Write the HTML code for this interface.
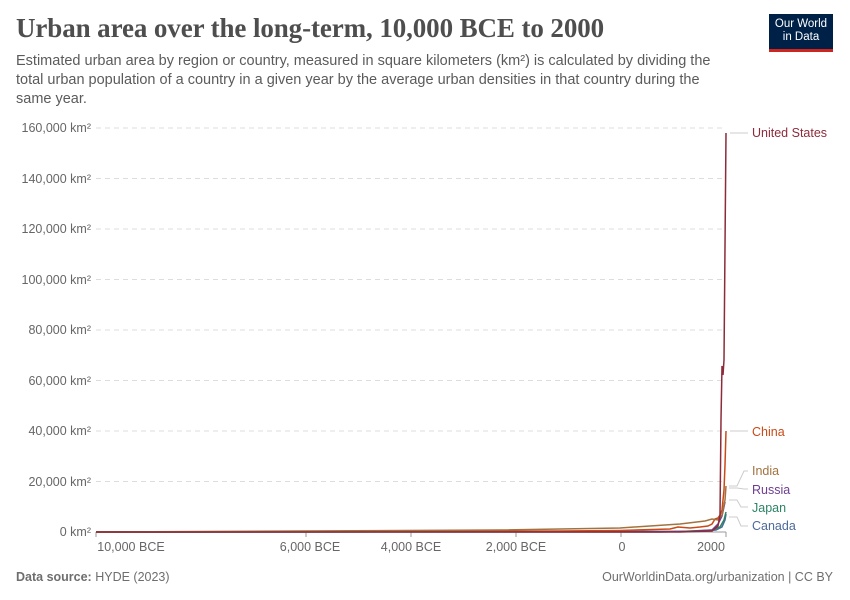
<!DOCTYPE html>
<html><head><meta charset="utf-8"><style>
body{margin:0;background:#fff;width:850px;height:600px;overflow:hidden;font-family:"Liberation Sans",sans-serif}
.t{position:absolute;left:16px;top:13px;font-family:"Liberation Serif",serif;font-size:27px;color:#4e4e4e;font-weight:bold;letter-spacing:-0.1px}
.s{position:absolute;left:16px;top:52px;width:715px;font-size:14.5px;line-height:19px;color:#5b5b5b}
.logo{position:absolute;left:769px;top:14px;width:64px;height:38px;background:#002147;color:#fff;font-size:11.5px;text-align:center;line-height:13px;padding-top:4px;box-sizing:border-box;border-bottom:3px solid #ce261e}
.f{position:absolute;top:570px;font-size:12.5px;color:#6e6e6e}
</style></head><body>
<div class="t">Urban area over the long-term, 10,000 BCE to 2000</div>
<div class="s">Estimated urban area by region or country, measured in square kilometers (km²) is calculated by dividing the total urban population of a country in a given year by the average urban densities in that country during the same year.</div>
<div class="logo">Our World<br>in Data</div>
<svg width="850" height="600" style="position:absolute;left:0;top:0" font-family="Liberation Sans,sans-serif">
<g stroke="#ddd" stroke-dasharray="5,4" stroke-width="1">
<line x1="96" x2="724" y1="128" y2="128"/><line x1="96" x2="724" y1="178.5" y2="178.5"/><line x1="96" x2="724" y1="229" y2="229"/><line x1="96" x2="724" y1="279.5" y2="279.5"/><line x1="96" x2="724" y1="330" y2="330"/><line x1="96" x2="724" y1="380.5" y2="380.5"/><line x1="96" x2="724" y1="431" y2="431"/><line x1="96" x2="724" y1="481.5" y2="481.5"/>
</g>
<line x1="96" x2="726" y1="532" y2="532" stroke="#999"/>
<g font-size="12.5" fill="#666" text-anchor="end">
<text x="91" y="132">160,000 km²</text><text x="91" y="183">140,000 km²</text><text x="91" y="233">120,000 km²</text><text x="91" y="284">100,000 km²</text><text x="91" y="334">80,000 km²</text><text x="91" y="385">60,000 km²</text><text x="91" y="435">40,000 km²</text><text x="91" y="486">20,000 km²</text><text x="91" y="536">0 km²</text>
</g>
<g font-size="12.5" fill="#666" text-anchor="middle">
<text x="131" y="551">10,000 BCE</text><text x="310" y="551">6,000 BCE</text><text x="411" y="551">4,000 BCE</text><text x="516" y="551">2,000 BCE</text><text x="622" y="551">0</text><text x="711" y="551">2000</text>
</g>
<g stroke="#999"><line x1="306" x2="306" y1="532" y2="537"/><line x1="411" x2="411" y1="532" y2="537"/><line x1="516" x2="516" y1="532" y2="537"/><line x1="621" x2="621" y1="532" y2="537"/><line x1="726" x2="726" y1="532" y2="537"/><line x1="96" x2="96" y1="532" y2="537"/></g>
<g fill="none" stroke-width="1.5">
<polyline stroke="#4c6a9c" points="96,532 660,532 700,531 716,530 722,527 725,520 726,514"/>
<polyline stroke="#2c8465" points="96,532 680,531.5 712,530 720,527 724,520 726,512"/>
<polyline stroke="#6d3e91" points="96,532 690,531.5 712,530 718,524 722,516 725,502"/>
<polyline stroke="#c94a17" points="96,532 400,531.5 560,531 620,530.5 670,529 678,527 690,528 700,527 708,526 712,524 715,519 718,518 720,515 722,510 724,490 725,465 726,431"/>
<polyline stroke="#a2723f" points="96,532 300,531 500,530 620,528 680,524 705,521 712,519 718,520 722,515 725,500 726,486"/>
<polyline stroke="#8c2b3a" points="96,532 680,532 712,531 718,526 720,515 721,420 722,366 723,375 724,360 726,133"/>
</g>
<g stroke="#ccc" fill="none"><line x1="730" x2="748" y1="133" y2="133"/><line x1="730" x2="748" y1="431" y2="431"/>
<polyline points="729,486 737,486 744,471 748,471"/><polyline points="729,488 737,488 744,489 748,489"/><polyline points="729,500 737,500 741,507 748,507"/><polyline points="729,517 737,517 741,526 748,526"/></g>
<g font-size="12.5">
<text x="752" y="137" fill="#8c2b3a">United States</text><text x="752" y="436" fill="#c94a17">China</text><text x="752" y="475" fill="#a2723f">India</text><text x="752" y="494" fill="#6d3e91">Russia</text><text x="752" y="512" fill="#2c8465">Japan</text><text x="752" y="530" fill="#4c6a9c">Canada</text>
</g>
</svg>
<div class="f" style="left:16px"><b>Data source:</b> HYDE (2023)</div>
<div class="f" style="right:17px">OurWorldinData.org/urbanization | CC BY</div>
</body></html>
